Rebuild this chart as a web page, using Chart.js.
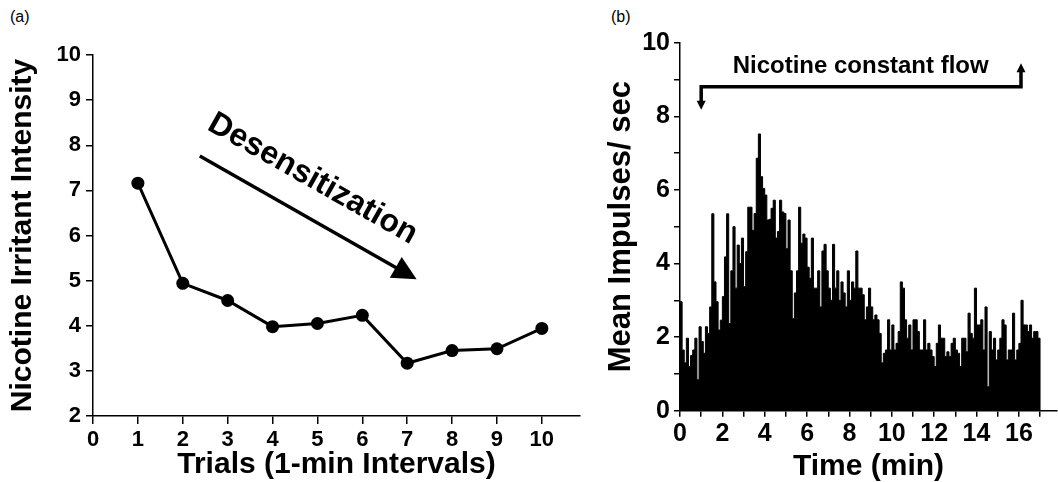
<!DOCTYPE html>
<html><head><meta charset="utf-8">
<script src="https://cdn.jsdelivr.net/npm/chart.js@4/dist/chart.umd.min.js"></script>
<style>
html,body{margin:0;padding:0;background:#fff;}
#wrap{position:relative;width:1058px;height:482px;overflow:hidden;background:#fff;}
canvas{position:absolute;top:0;}
#ca{left:0;} #cb{left:600px;}
.lbl{position:absolute;top:8px;font:16px 'Liberation Sans',Arial,sans-serif;color:#000;}
</style></head><body>
<div id="wrap">
<div class="lbl" style="left:10px">(a)</div>
<div class="lbl" style="left:611px">(b)</div>
<canvas id="ca" width="600" height="482"></canvas>
<canvas id="cb" width="458" height="482"></canvas>
</div>
<script>
// ---- Panel (a) data ----
const trials = [1, 2, 3, 4, 5, 6, 7, 8, 9, 10];
const intensity = [7.16, 4.94, 4.56, 3.98, 4.05, 4.23, 3.17, 3.45, 3.49, 3.94];
const trialTicks = [0, 1, 2, 3, 4, 5, 6, 7, 8, 9, 10];
const intensityTicks = [2, 3, 4, 5, 6, 7, 8, 9, 10];

// ---- Panel (b) data: mean impulses/sec per 0.1-min bin, 0 to 17 min ----
const binMinutes = 0.1;
const impulses = [
  2.96, 1.65, 1.3, 1.97, 1.2, 1.5, 1.65, 1.97, 0.84, 2.28,
  1.88, 1.56, 2.28, 2.1, 2.82, 5.35, 3.5, 2.96, 2.19, 2.46,
  3.1, 4.18, 5.35, 2.37, 3.8, 5.0, 3.33, 4.5, 4.0, 4.69,
  3.37, 4.32, 5.53, 5.53, 4.9, 5.36, 6.86, 7.52, 6.36, 6.04,
  5.86, 5.18, 5.2, 5.5, 5.72, 4.69, 4.87, 5.72, 5.4, 5.36,
  4.4, 5.18, 3.8, 2.5, 3.2, 3.8, 5.53, 4.55, 4.8, 4.69,
  3.9, 3.6, 4.69, 3.33, 3.33, 3.8, 2.82, 4.34, 4.52, 3.8,
  3.33, 3.0, 4.52, 3.33, 3.8, 3.0, 3.5, 3.2, 2.82, 3.8,
  3.0, 3.5, 3.33, 4.34, 3.33, 3.33, 3.15, 2.47, 2.82, 3.33,
  2.82, 2.47, 2.6, 2.47, 2.1, 1.3, 1.56, 1.65, 2.47, 1.65,
  2.33, 1.65, 1.83, 2.15, 3.5, 3.33, 2.47, 1.97, 2.33, 1.65,
  2.47, 2.47, 2.15, 1.65, 1.65, 2.47, 1.65, 1.83, 1.65, 1.47,
  1.2, 1.83, 2.33, 1.97, 1.97, 1.47, 1.6, 1.47, 1.83, 1.97,
  1.65, 1.56, 1.2, 1.97, 1.97, 1.6, 2.65, 2.1, 1.97, 3.33,
  2.33, 2.33, 2.47, 1.65, 2.82, 0.65, 2.15, 1.65, 1.97, 1.38,
  1.65, 1.97, 2.47, 2.33, 1.38, 1.65, 1.65, 2.65, 1.38, 1.65,
  1.83, 3.0, 2.33, 2.33, 2.15, 2.33, 1.97, 2.15, 2.15, 1.97
];
const timeTicks = [0, 2, 4, 6, 8, 10, 12, 14, 16];
const impulseTicks = [0, 2, 4, 6, 8, 10];

// annotation anchors (data units)
const desensArrow = {from: [2.38, 7.76], to: [7.21, 5.03]};
const desensText = {at: [2.52, 8.36], text: 'Desensitization'};
const flow = {start: 1.0, end: 16.1, level: 8.8, downTip: 8.18, upTip: 9.44, textX: 8.53, textY: 9.35, text: 'Nicotine constant flow'};

const FONT = "'Liberation Sans', Arial, Helvetica, sans-serif";
Chart.defaults.font.family = FONT;
Chart.defaults.color = '#000';

const annotA = {
  id: 'annotA',
  afterDraw(chart) {
    const {ctx, scales: {x, y}} = chart;
    const S = [x.getPixelForValue(desensArrow.from[0]), y.getPixelForValue(desensArrow.from[1])];
    const T = [x.getPixelForValue(desensArrow.to[0]), y.getPixelForValue(desensArrow.to[1])];
    const th = Math.atan2(T[1] - S[1], T[0] - S[0]);
    const u = [Math.cos(th), Math.sin(th)], n = [-Math.sin(th), Math.cos(th)];
    const L = 24, W = 12;
    const B = [T[0] - L * u[0], T[1] - L * u[1]];
    ctx.save();
    ctx.strokeStyle = '#000'; ctx.fillStyle = '#000'; ctx.lineWidth = 3.5;
    ctx.beginPath(); ctx.moveTo(S[0], S[1]); ctx.lineTo(B[0] + 2 * u[0], B[1] + 2 * u[1]); ctx.stroke();
    ctx.beginPath(); ctx.moveTo(T[0], T[1]);
    ctx.lineTo(B[0] + W * n[0], B[1] + W * n[1]);
    ctx.lineTo(B[0] - W * n[0], B[1] - W * n[1]);
    ctx.closePath(); ctx.fill();
    const P = [x.getPixelForValue(desensText.at[0]), y.getPixelForValue(desensText.at[1])];
    ctx.translate(P[0], P[1]); ctx.rotate(th - 0.003);
    ctx.font = 'bold 32px ' + FONT; ctx.textAlign = 'left'; ctx.textBaseline = 'alphabetic';
    ctx.fillText(desensText.text, 0, 0);
    ctx.restore();
  }
};

const annotB = {
  id: 'annotB',
  afterDraw(chart) {
    const {ctx, scales: {x, y}} = chart;
    const xL = x.getPixelForValue(flow.start), xR = x.getPixelForValue(flow.end);
    const yl = y.getPixelForValue(flow.level);
    const tL = y.getPixelForValue(flow.downTip), tR = y.getPixelForValue(flow.upTip);
    const h = 9, w = 4.5;
    ctx.save();
    ctx.strokeStyle = '#000'; ctx.fillStyle = '#000'; ctx.lineWidth = 3.5; ctx.lineJoin = 'miter';
    ctx.beginPath();
    ctx.moveTo(xL, tL - h + 1); ctx.lineTo(xL, yl); ctx.lineTo(xR, yl); ctx.lineTo(xR, tR + h - 1);
    ctx.stroke();
    ctx.beginPath(); ctx.moveTo(xL, tL); ctx.lineTo(xL - w, tL - h); ctx.lineTo(xL + w, tL - h); ctx.closePath(); ctx.fill();
    ctx.beginPath(); ctx.moveTo(xR, tR); ctx.lineTo(xR - w, tR + h); ctx.lineTo(xR + w, tR + h); ctx.closePath(); ctx.fill();
    ctx.font = 'bold 24px ' + FONT; ctx.textAlign = 'center'; ctx.textBaseline = 'middle';
    ctx.fillText(flow.text, x.getPixelForValue(flow.textX), y.getPixelForValue(flow.textY));
    ctx.restore();
  }
};

const axisCommon = (tickLen, lw) => ({
  grid: {drawOnChartArea: false, drawTicks: true, tickLength: tickLen, color: '#000', lineWidth: lw},
  border: {display: true, color: '#000', width: 1.5}
});

new Chart(document.getElementById('ca'), {
  type: 'line',
  data: {datasets: [{
    data: trials.map((t, i) => ({x: t, y: intensity[i]})),
    borderColor: '#000', backgroundColor: '#000', borderWidth: 3,
    pointRadius: 6.5, pointBackgroundColor: '#000', pointBorderWidth: 0, tension: 0
  }]},
  options: {
    responsive: false, animation: false, devicePixelRatio: 1,
    layout: {padding: {top: 55, right: 20, left: 0, bottom: 0}},
    plugins: {legend: {display: false}, tooltip: {enabled: false}},
    scales: {
      x: {
        type: 'linear', min: 0, max: 10.85,
        afterBuildTicks: s => { s.ticks = trialTicks.map(v => ({value: v})); },
        ticks: {autoSkip: false, includeBounds: false, maxRotation: 0, color: '#000', font: {size: 22, weight: 'bold'}, padding: 3},
        ...axisCommon(8, 1.5),
        title: {display: true, text: 'Trials (1-min Intervals)', color: '#000', font: {size: 30, weight: 'bold', lineHeight: 1}, padding: {top: 0, bottom: 2.5}},
        afterFit: s => { s.height = 66; }
      },
      y: {
        type: 'linear', min: 2, max: 10,
        afterBuildTicks: s => { s.ticks = intensityTicks.map(v => ({value: v})); },
        ticks: {autoSkip: false, color: '#000', font: {size: 22, weight: 'bold'}, padding: 5},
        ...axisCommon(7, 1.5),
        title: {display: true, text: 'Nicotine Irritant Intensity', color: '#000', font: {size: 30, weight: 'bold', lineHeight: 1}, padding: {top: 7.6, bottom: 0}},
        afterFit: s => { s.width = 93; }
      }
    }
  },
  plugins: [annotA]
});

const histPoints = impulses.map((v, i) => ({x: +(i * binMinutes).toFixed(2), y: v}));
histPoints.push({x: +(impulses.length * binMinutes).toFixed(2), y: 0});

new Chart(document.getElementById('cb'), {
  type: 'line',
  data: {datasets: [{
    data: histPoints, stepped: true, fill: 'origin',
    borderColor: '#000', backgroundColor: '#000', borderWidth: 1, pointRadius: 0
  }]},
  options: {
    responsive: false, animation: false, devicePixelRatio: 1,
    layout: {padding: {top: 42.7, right: 1, left: 0, bottom: 0}},
    plugins: {legend: {display: false}, tooltip: {enabled: false}},
    scales: {
      x: {
        type: 'linear', min: 0, max: 17.8,
        afterBuildTicks: s => { const t = []; for (let v = 0; v <= 17; v++) t.push({value: v}); s.ticks = t; },
        ticks: {autoSkip: false, maxRotation: 0, color: '#000', font: {size: 25, weight: 'bold'}, padding: 2,
          callback: v => timeTicks.includes(v) ? String(v) : ''},
        ...axisCommon(6, 1.5),
        title: {display: true, text: 'Time (min)', color: '#000', font: {size: 30, weight: 'bold', lineHeight: 1}, padding: {top: 0, bottom: 0.7}},
        afterFit: s => { s.height = 71.3; }
      },
      y: {
        type: 'linear', min: 0, max: 10,
        afterBuildTicks: s => { const t = []; for (let v = 0; v <= 10; v++) t.push({value: v}); s.ticks = t; },
        ticks: {autoSkip: false, color: '#000', font: {size: 25, weight: 'bold'}, padding: 4,
          callback: v => impulseTicks.includes(v) ? String(v) : ''},
        ...axisCommon(6, 1.5),
        title: {display: true, text: 'Mean Impulses/ sec', color: '#000', font: {size: 31, weight: 'bold', lineHeight: 1}, padding: {top: 5.5, bottom: 0}},
        afterFit: s => { s.width = 80; }
      }
    }
  },
  plugins: [annotB]
});
</script>
</body></html>
